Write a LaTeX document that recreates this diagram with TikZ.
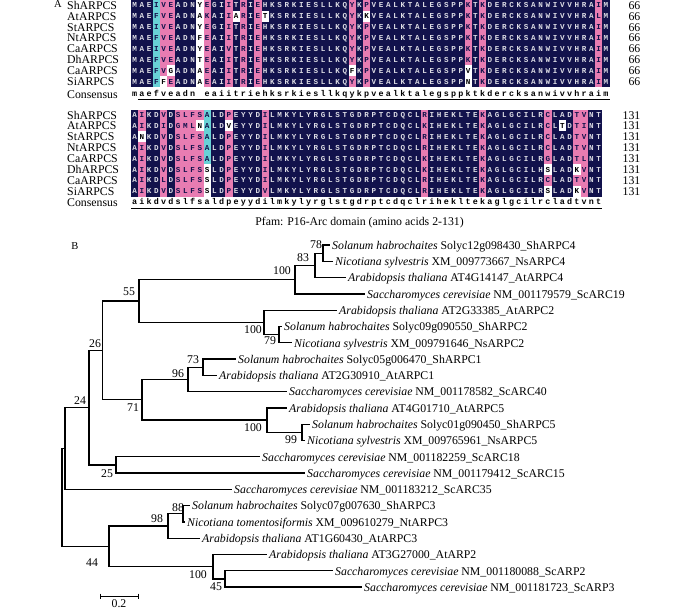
\documentclass[tikz,border=0pt]{standalone}
\usepackage{fontspec}
\setmainfont{Liberation Serif}
\newfontfamily\alnfont{Liberation Mono}
\usetikzlibrary{positioning, calc}
\definecolor{alnnavy}{RGB}{18, 18, 76}
\definecolor{alnpink}{RGB}{232, 124, 178}
\definecolor{alncyan}{RGB}{104, 210, 214}
% cell fill and letter colour for each code: n navy, p pink, c cyan, w white
\colorlet{bgn}{alnnavy}
\colorlet{bgp}{alnpink}
\colorlet{bgc}{alncyan}
\colorlet{bgw}{white}
\colorlet{fgn}{white!85!alnnavy}
\colorlet{fgp}{alnnavy}
\colorlet{fgc}{alnnavy}
\colorlet{fgw}{black}
\ExplSyntaxOn
\cs_new:Npn \alnitem #1#2 { \exp_args:No \tl_item:nn {#1} {#2} }
\ExplSyntaxOff

\begin{document}
\begin{tikzpicture}[x=1pt, y=-1pt,
    panel/.style={inner sep=0pt, font=\fontsize{10.5}{11}\selectfont},
    rowname/.style={anchor=base west, inner sep=0pt, font=\fontsize{11.8}{12}\selectfont},
    rownum/.style={anchor=base east, inner sep=0pt, font=\fontsize{11.8}{12}\selectfont},
    res/.style={anchor=base, inner sep=0pt, font=\alnfont\bfseries\fontsize{7.6}{8}\selectfont},
    cons/.style={anchor=base, inner sep=0pt, font=\alnfont\bfseries\fontsize{8.4}{9}\selectfont},
    branch/.style={line width=1.3pt},
    leaf/.style={anchor=base west, inner sep=0pt, font=\fontsize{11.8}{12}\selectfont},
    boot/.style={inner sep=0pt, font=\fontsize{11.8}{12}\selectfont}
]
\useasboundingbox (0,0) rectangle (700,610);

% ---------- A: alignment ----------
\node[panel] (pA) at (58,4) {A};

% row names
\foreach \rw/\nm in {1/ShARPCS, 2/AtARPCS, 3/StARPCS, 4/NtARPCS, 5/CaARPCS, 6/DhARPCS, 7/CaARPCS, 8/SiARPCS}{
  \node[rowname] (na\rw) at (67,{5.2+(\rw-1)*10.9+4}) {\nm};
  \node[rowname] (nb\rw) at (67,{115+(\rw-1)*10.9+4}) {\nm};
  \node[rownum] (ea\rw) at (640.5,{5.2+(\rw-1)*10.9+4}) {66};
  \node[rownum] (eb\rw) at (640.5,{115+(\rw-1)*10.9+4}) {131};
}
\node[rowname] (nac) at (67,98.3) {Consensus};
\node[rowname] (nbc) at (67,206.7) {Consensus};

% block 1 (residues 1-66)
\fill[alnnavy] (131,-0.25) rectangle (609.5,86.95);
\foreach \rw/\rs/\rc in {
 1/MAEIVEADNY EGIITRIEHK SRKIESLLKQ YKPVEALKTA LEGSPPKTKD ERCKSANWIV VHRAIM/nnncppnnnw pnnpnpnpnn nnnnnnnnnn pnpnnnnnnn nnnnnnpnpn nnnnnnnnnn nnnnpn,
 2/MAEFVEADNA KAIIARIETK SRKIESLLKQ YKKVEALKTA LEGSPPKTKD ERCKSANWIV VHRALM/nnncppnnnw pnnpwpnpwn nnnnnnnnnn pnwnnnnnnn nnnnnnpnpn nnnnnnnnnn nnnnpn,
 3/MAEIVEADNY EGIITRIEHK SRKIESLLKQ YKPVEALKTA LEGSPPKTKD ERCKSANWIV VHRAIM/nnncppnnnw pnnpnpnpnn nnnnnnnnnn pnpnnnnnnn nnnnnnpnpn nnnnnnnnnn nnnnpn,
 4/MAEFVEADNF EAIITRIEHK SRKIESLLKQ YKPVEALKTA LEGSPPKTKD ERCKSANWIV VHRAIM/nnncppnnnw pnnpnpnpnn nnnnnnnnnn pnpnnnnnnn nnnnnnpnpn nnnnnnnnnn nnnnpn,
 5/MAEIVEADNY EAIVTRIEHK SRKIESLLKQ YKPVEALKTA LEGSPPKTKD ERCKSANWIV VHRAIM/nnncppnnnw pnnpnpnpnn nnnnnnnnnn pnpnnnnnnn nnnnnnpnpn nnnnnnnnnn nnnnpn,
 6/MAEFVEADNT EAIITRIEHK SRKIESLLKQ YKPVEALKTA LEGSPPKTKD ERCKSANWIV VHRAIM/nnncppnnnw pnnpnpnpnn nnnnnnnnnn pnpnnnnnnn nnnnnnpnpn nnnnnnnnnn nnnnpn,
 7/MAEFVGADNA EAIITRIEHK SRKIESLLKQ FKPVEALKTA LEGSPPVTKD ERCKSANWIV VHRAIM/nnncpwnnnw pnnpnpnpnn nnnnnnnnnn wnpnnnnnnn nnnnnnwnpn nnnnnnnnnn nnnnpn,
 8/MAEFFEADNA EAIITRIEHK SRKIESLLKQ YKPVEALKTA LEGSPPNTKD ERCKSANWIV VHRAIM/nnncwpnnnw pnnpnpnpnn nnnnnnnnnn pnpnnnnnnn nnnnnnwnpn nnnnnnnnnn nnnnpn}{
  \foreach \ci in {1,...,66}{
    \edef\resch{\alnitem{\rs}{\ci}}
    \edef\cellbg{bg\alnitem{\rc}{\ci}}
    \edef\cellfg{fg\alnitem{\rc}{\ci}}
    \fill[fill=\cellbg] ({131+(\ci-1)*7.25},{5.2+(\rw-1)*10.9-5.45}) rectangle ++(7.25,10.9);
    \node[res, text=\cellfg] (a\rw-\ci) at ({131+(\ci-0.5)*7.25},{5.2+(\rw-1)*10.9+2.5}) {\resch};
  }
}
\def\consA{maefveadn- eaiitriehk srkiesllkq ykpvealkta legsppktkd ercksanwiv vhraim}
\foreach \ci in {1,...,66}{
  \edef\resch{\alnitem{\consA}{\ci}}
  \if\resch-\else\node[cons] (ca\ci) at ({131+(\ci-0.5)*7.25},96.5) {\resch};\fi
}
\coordinate (ulA0) at (138.25,99.3);
\coordinate (ulA1) at (609.5,99.3);
\draw[line width=1.2pt] (ulA0) -- (ulA1);

% block 2 (residues 67-131)
\fill[alnnavy] (131,109.55) rectangle (602.25,196.75);
\foreach \rw/\rs/\rc in {
 1/AIKDVDSLFS ALDPEYYDIL MKYLYRGLST GDRPTCDQCL RIHEKLTEKA GLGCILRCLA DTVNT/npnnpnpppp cnnpnnnnpn nnnnnnnnnn nnnnnnnnnn pnnnnnnnpn nnnnnnnpnn nppnn,
 2/AIKDIDGMLN ALDVEYYDIL MKYLYRGLST GDRPTCDQCL KIHEKLTEKA GLGCILRCLT DTINT/npnnpnpppw cnnwnnnnpn nnnnnnnnnn nnnnnnnnnn pnnnnnnnpn nnnnnnnpnw nppnn,
 3/ANKDVDSLFS ALDPEYYDIL MKYLYRGLST GDRPTCDQCL RIHEKLTEKA GLGCILRCLA DTVNT/nwnnpnpppp cnnpnnnnpn nnnnnnnnnn nnnnnnnnnn pnnnnnnnpn nnnnnnnpnn nppnn,
 4/AIKDVDSLFS ALDPEYYDIL MKYLYRGLST GDRPTCDQCL RIHEKLTEKA GLGCILRCLA DTVNT/npnnpnpppp cnnpnnnnpn nnnnnnnnnn nnnnnnnnnn pnnnnnnnpn nnnnnnnpnn nppnn,
 5/AIKDVDSLFS ALDPEYYDIL MKYLYRGLST GDRPTCDQCL KIHEKLTEKA GLGCILRGLA DTLNT/npnnpnpppp cnnpnnnnpn nnnnnnnnnn nnnnnnnnnn pnnnnnnnpn nnnnnnnpnn nppnn,
 6/AIKDVDSLFS SLDPEYYDIL MKYLYRGLST GDRPTCDQCL KIHEKLTEKA GLGCILHSLA DKVNT/npnnpnpppp wnnpnnnnpn nnnnnnnnnn nnnnnnnnnn pnnnnnnnpn nnnnnnnwnn nwpnn,
 7/AIKDLDSLFS SLDPEYYDIL MKYLYRGLST GDRPTCDQCL RIHEKLTEKA GLGCILRCLA DTVNT/npnnpnpppp wnnpnnnnpn nnnnnnnnnn nnnnnnnnnn pnnnnnnnpn nnnnnnnpnn nppnn,
 8/AIKDVDSLFS SLDPEYYDVL MKYLYRGLST GDRPTCDQCL RIHEKLTEKA GLGCILRSLA DKVNT/npnnpnpppp wnnpnnnnpn nnnnnnnnnn nnnnnnnnnn pnnnnnnnpn nnnnnnnwnn nwpnn}{
  \foreach \ci in {1,...,65}{
    \edef\resch{\alnitem{\rs}{\ci}}
    \edef\cellbg{bg\alnitem{\rc}{\ci}}
    \edef\cellfg{fg\alnitem{\rc}{\ci}}
    \fill[fill=\cellbg] ({131+(\ci-1)*7.25},{115+(\rw-1)*10.9-5.45}) rectangle ++(7.25,10.9);
    \node[res, text=\cellfg] (b\rw-\ci) at ({131+(\ci-0.5)*7.25},{115+(\rw-1)*10.9+2.5}) {\resch};
  }
}
\def\consB{aikdvdslfs aldpeyydil mkylyrglst gdrptcdqcl riheklteka glgcilrcla dtvnt}
\foreach \ci in {1,...,65}{
  \edef\resch{\alnitem{\consB}{\ci}}
  \node[cons] (cb\ci) at ({131+(\ci-0.5)*7.25},204.9) {\resch};
}
\coordinate (ulB0) at (131,208.5);
\coordinate (ulB1) at (602.25,208.5);
\draw[line width=1.2pt] (ulB0) -- (ulB1);
\node[rowname, anchor=center] (pfam) at (359.5,223) {Pfam: P16-Arc domain (amino acids 2-131)};

% ---------- B: tree ----------
\node[panel] (pB) at (75,246) {B};

% leaves
\foreach \k/\tx/\sp/\acc in {
 1/330/Solanum habrochaites/Solyc12g098430\_ShARPC4,
 2/333/Nicotiana sylvestris/XM\_009773667\_NsARPC4,
 3/346/Arabidopsis thaliana/AT4G14147\_AtARPC4,
 4/365/Saccharomyces cerevisiae/NM\_001179579\_ScARC19,
 5/337/Arabidopsis thaliana/AT2G33385\_AtARPC2,
 6/282/Solanum habrochaites/Solyc09g090550\_ShARPC2,
 7/292/Nicotiana sylvestris/XM\_009791646\_NsARPC2,
 8/236/Solanum habrochaites/Solyc05g006470\_ShARPC1,
 9/217/Arabidopsis thaliana/AT2G30910\_AtARPC1,
 10/287/Saccharomyces cerevisiae/NM\_001178582\_ScARC40,
 11/287/Arabidopsis thaliana/AT4G01710\_AtARPC5,
 12/310/Solanum habrochaites/Solyc01g090450\_ShARPC5,
 13/305/Nicotiana sylvestris/XM\_009765961\_NsARPC5,
 14/260/Saccharomyces cerevisiae/NM\_001182259\_ScARC18,
 15/305/Saccharomyces cerevisiae/NM\_001179412\_ScARC15,
 16/232/Saccharomyces cerevisiae/NM\_001183212\_ScARC35,
 17/190/Solanum habrochaites/Solyc07g007630\_ShARPC3,
 18/185/Nicotiana tomentosiformis/XM\_009610279\_NtARPC3,
 19/200/Arabidopsis thaliana/AT1G60430\_AtARPC3,
 20/267/Arabidopsis thaliana/AT3G27000\_AtARP2,
 21/333/Saccharomyces cerevisiae/NM\_001180088\_ScARP2,
 22/362/Saccharomyces cerevisiae/NM\_001181723\_ScARP3}{
  \coordinate (t\k) at (\tx,{245+(\k-1)*16.29});
  \node[leaf] (l\k) at ({\tx+2},{245+(\k-1)*16.29+4.3}) {\textit{\sp} \acc};
}

% inner nodes
\coordinate (n78) at (323,253.15);
\coordinate (n83) at (315,265.36);
\coordinate (n100a) at (295,279.62);
\coordinate (n79) at (279,334.60);
\coordinate (n100b) at (264,322.38);
\coordinate (n55) at (139,301.00);
\coordinate (n73) at (203,367.18);
\coordinate (n96) at (188,379.39);
\coordinate (n99) at (302,432.34);
\coordinate (n100c) at (267,420.12);
\coordinate (n71) at (142,399.76);
\coordinate (n26) at (102.5,350.38);
\coordinate (n25) at (116,464.92);
\coordinate (n24) at (89,407.65);
\coordinate (nX) at (65,448.50);
\coordinate (n88) at (183,513.79);
\coordinate (n98) at (168,526.00);
\coordinate (n45) at (225,578.95);
\coordinate (n100d) at (213,566.73);
\coordinate (n44) at (109,546.37);
\coordinate (root) at (62,497.43);

% branches
\foreach \p/\c in {root/nX, root/n44, nX/n24, nX/t16, n24/n26, n24/n25,
    n26/n55, n26/n71, n55/n100a, n55/n100b, n100a/n83, n100a/t4,
    n83/n78, n83/t3, n78/t1, n78/t2, n100b/t5, n100b/n79, n79/t6, n79/t7,
    n71/n96, n71/n100c, n96/n73, n96/t10, n73/t8, n73/t9,
    n100c/t11, n100c/n99, n99/t12, n99/t13, n25/t14, n25/t15,
    n44/n98, n44/n100d, n98/n88, n98/t19, n88/t17, n88/t18,
    n100d/t20, n100d/n45, n45/t21, n45/t22}
  \draw[branch] (\p) |- (\c);

% bootstrap values
\foreach \nm/\bx/\by/\bv in {78/316/245/78, 83/303/258/83, 100a/282/271/100,
    55/129/292/55, 100b/253/330/100, 79/270/341/79, 26/95/344/26,
    73/193/360/73, 96/178/374/96, 71/133/408/71, 100c/253/428/100,
    99/291/440/99, 24/80/401/24, 25/107/474/25, 44/92/563/44,
    98/157/519/98, 88/178/508/88, 100d/198/575/100, 45/216/587/45}
  \node[boot] (bs\nm) at (\bx,\by) {\bv};

% scale bar
\coordinate (sb0) at (100,596);
\coordinate (sb1) at (138,596);
\draw[line width=0.8pt] (sb0) -- (sb1);
\draw[line width=0.8pt] ([yshift=2.5pt]sb0) -- ([yshift=-2.5pt]sb0);
\draw[line width=0.8pt] ([yshift=2.5pt]sb1) -- ([yshift=-2.5pt]sb1);
\node[boot] (sblab) at (119,603.5) {0.2};
\end{tikzpicture}
\end{document}
